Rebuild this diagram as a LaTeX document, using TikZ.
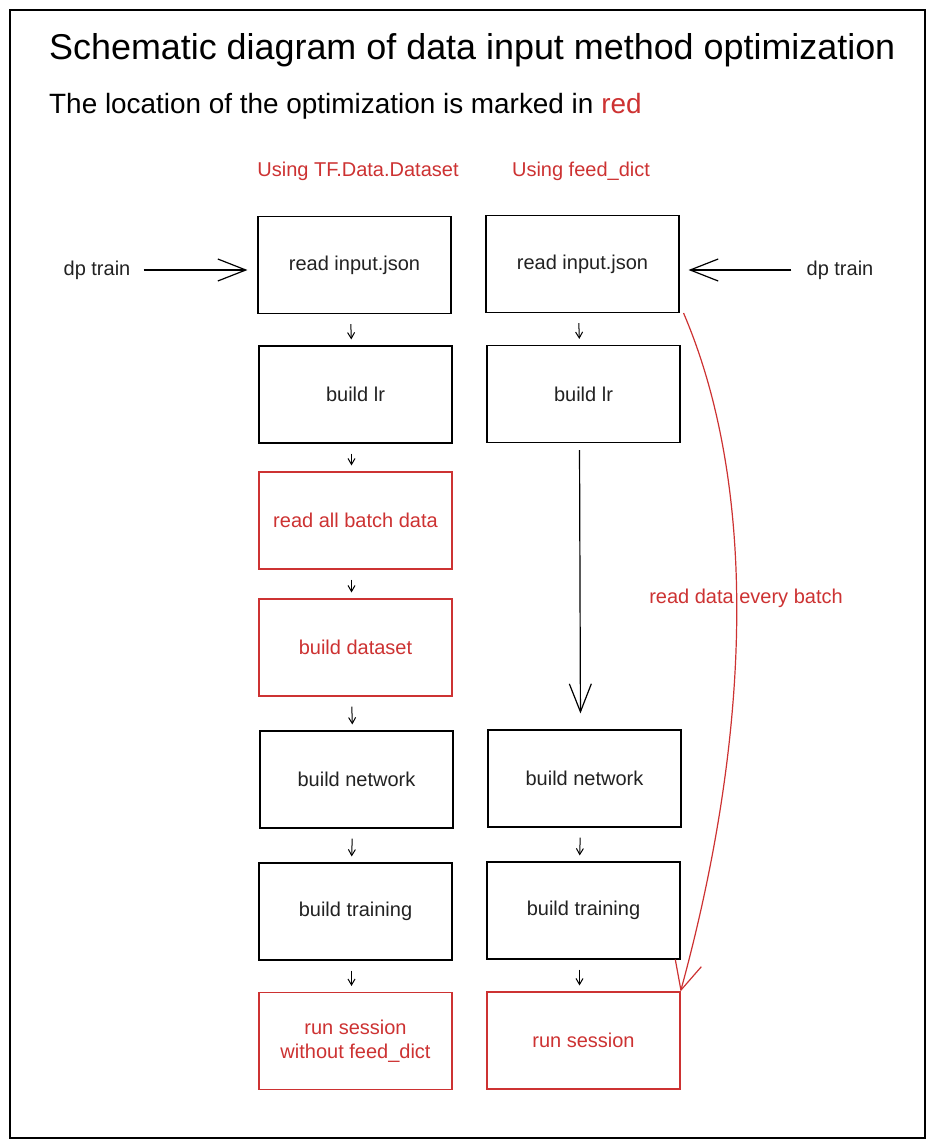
\documentclass[tikz,border=0pt]{standalone}
\usepackage{fontspec}
\setmainfont{Liberation Sans}
\usetikzlibrary{arrows.meta,calc,bending}
\definecolor{myred}{RGB}{205,50,50}
\definecolor{mytext}{RGB}{34,34,34}
\tikzset{
  box/.style={draw=black, line width=1.1pt, minimum width=193pt, minimum height=97pt, inner sep=0pt,
    text=mytext, font=\fontsize{20}{24}\selectfont, align=center},
  redbox/.style={box, draw=myred, text=myred},
  lbl/.style={inner sep=0pt, font=\fontsize{20}{24}\selectfont},
  smallarrow/.style={draw=black, line width=1pt, -{Straight Barb[length=6pt,width=7pt]}},
  bigarrow/.style={draw=black, line width=1.2pt, -{Straight Barb[length=28pt,width=22pt]}},
}
\begin{document}
\begin{tikzpicture}[x=1pt,y=-1pt]
\fill[white] (0,0) rectangle (935,1148);
\useasboundingbox (0,0) rectangle (935,1148);
\draw[line width=1.2pt] (10,10) rectangle (925,1138);

\node[anchor=west, inner sep=0pt, font=\fontsize{35.9}{40}\selectfont] (title) at (49,50) {Schematic diagram of data input method optimization};
\node[anchor=west, inner sep=0pt, font=\fontsize{27.9}{32}\selectfont] (sub) at (49,106) {The location of the optimization is marked in \textcolor{myred}{red}};

\node[lbl, text=myred] (hL) at (358,171) {Using TF.Data.Dataset};
\node[lbl, text=myred] (hR) at (581,171) {Using feed\_dict};

% left column
\node[box] (L1) at (354.5,265) {read input.json};
\node[box] (L2) at (355.5,394.5) {build lr};
\node[redbox] (L3) at (355.5,520.5) {read all batch data};
\node[redbox] (L4) at (355.5,647.5) {build dataset};
\node[box] (L5) at (356.5,779.5) {build network};
\node[box] (L6) at (355.5,911.5) {build training};
\node[redbox] (L7) at (355.5,1041) {run session\\without feed\_dict};

% right column
\node[box] (R1) at (582.5,264) {read input.json};
\node[box] (R2) at (583.5,394) {build lr};
\node[box] (R5) at (584.5,778.5) {build network};
\node[box] (R6) at (583.5,910.5) {build training};
\node[redbox] (R7) at (583.5,1040.5) {run session};

% small arrows
\foreach \a/\b in {L1/L2, L2/L3, L3/L4, L4/L5, L5/L6, L6/L7}{
  \draw[smallarrow, shorten <=10pt, shorten >=6pt] ([xshift=-4pt]\a.south) -- ([xshift=-4pt]\b.north);
}
\foreach \a/\b in {R1/R2, R5/R6, R6/R7}{
  \draw[smallarrow, shorten <=10pt, shorten >=6pt] ([xshift=-4pt]\a.south) -- ([xshift=-4pt]\b.north);
}
\draw[bigarrow, shorten <=7pt, shorten >=16pt] ([xshift=-4pt]R2.south) -- ([xshift=-4pt]R5.north);

% dp train
\node[lbl, text=mytext] (dpL) at (97,270) {dp train};
\node[lbl, text=mytext] (dpR) at (840,270) {dp train};
\draw[bigarrow, shorten <=13pt, shorten >=10pt] (dpL.east) -- (dpL.east -| L1.west);
\draw[bigarrow, shorten <=15pt, shorten >=9pt] (dpR.west) -- (dpR.west -| R1.east);

% red curve
\node[lbl, text=myred] (rd) at (746,598) {read data every batch};
\draw[draw=myred, line width=1.2pt, -{Straight Barb[length=28pt,width=27pt,flex]}]
  ([xshift=4pt]R1.south east) .. controls (755,480) and (755,720) .. (R7.north east);
\end{tikzpicture}
\end{document}
